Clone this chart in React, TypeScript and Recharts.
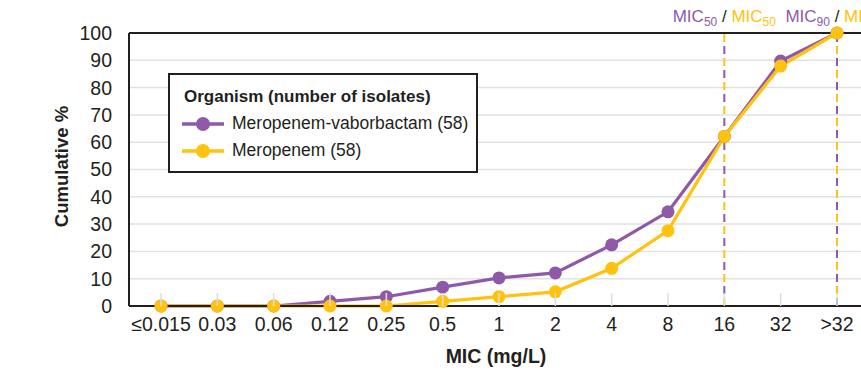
import React from 'react';
import { LineChart, Line, XAxis, YAxis, CartesianGrid, ReferenceLine } from 'recharts';

const micLabels = ['≤0.015', '0.03', '0.06', '0.12', '0.25', '0.5', '1', '2', '4', '8', '16', '32', '>32'];
const meroVabor = [0, 0, 0, 1.7, 3.4, 6.9, 10.3, 12.1, 22.4, 34.5, 62.1, 89.7, 100];
const meropenem = [0, 0, 0, 0, 0, 1.7, 3.4, 5.2, 13.8, 27.6, 62.1, 87.9, 100];
const yTicks = [0, 10, 20, 30, 40, 50, 60, 70, 80, 90, 100];

const seriesNames = ['Meropenem-vaborbactam (58)', 'Meropenem (58)'];
const mic50 = '16';
const mic90 = '>32';

const PURPLE = '#8E5AA8';
const YELLOW = '#FFC20E';
const DARK = '#231F20';
const FONT = '"Liberation Sans", Arial, sans-serif';

const data = micLabels.map((mic, i) => ({ mic, mv: meroVabor[i], m: meropenem[i] }));

const TICK_MARGIN = 8;

const XTick = (props: any) => {
  const { x, y, payload } = props;
  const axisY = y - TICK_MARGIN;
  return (
    <g>
      <line x1={x} x2={x} y1={axisY - 13} y2={axisY} stroke="#dedede" strokeWidth={1.5} />
      <text x={x} y={y + 17} textAnchor="middle" fill={DARK} fontSize={19.5} fontFamily={FONT}>
        {payload.value}
      </text>
    </g>
  );
};

const MicLabel = (sub: string) => (props: any) => {
  const { viewBox } = props;
  const cx = viewBox.x;
  return (
    <text x={cx} y={22} textAnchor="middle" fontSize={17} fontFamily={FONT}>
      <tspan fill={PURPLE}>MIC</tspan>
      <tspan fill={PURPLE} fontSize={12} dy={4}>{sub}</tspan>
      <tspan fill={DARK} dy={-4}> / </tspan>
      <tspan fill={YELLOW}>MIC</tspan>
      <tspan fill={YELLOW} fontSize={12} dy={4}>{sub}</tspan>
    </text>
  );
};

const YTitle = (props: any) => {
  const { viewBox } = props;
  const cy = viewBox.y + viewBox.height / 2 - 3;
  return (
    <text x={68} y={cy} transform={`rotate(-90, 68, ${cy})`} textAnchor="middle" fill={DARK}
      fontSize={18.5} fontWeight="bold" fontFamily={FONT}>
      Cumulative %
    </text>
  );
};

const XTitle = (props: any) => {
  const { viewBox } = props;
  const cx = viewBox.x + viewBox.width / 2 - 3;
  return (
    <text x={cx} y={363} textAnchor="middle" fill={DARK} fontSize={19.5} fontWeight="bold" fontFamily={FONT}>
      MIC (mg/L)
    </text>
  );
};

const LegendBox = () => (
  <div style={{
    position: 'absolute', left: 168, top: 73, width: 306, height: 96, border: `2px solid ${DARK}`,
    background: '#fff', fontFamily: FONT, color: DARK, boxSizing: 'content-box',
  }}>
    <div style={{ position: 'absolute', left: 14, top: 12, fontSize: 17, fontWeight: 'bold' }}>
      Organism (number of isolates)
    </div>
    {seriesNames.map((name, i) => (
      <div key={name} style={{ position: 'absolute', left: 12, top: 38 + i * 27, display: 'flex', alignItems: 'center', fontSize: 17.5 }}>
        <svg width={42} height={16} style={{ marginRight: 8 }}>
          <line x1={0} x2={42} y1={8} y2={8} stroke={i === 0 ? PURPLE : YELLOW} strokeWidth={3.5} />
          <circle cx={21} cy={8} r={7} fill={i === 0 ? PURPLE : YELLOW} />
        </svg>
        <span>{name}</span>
      </div>
    ))}
  </div>
);

export default function App() {
  return (
    <div style={{ position: 'absolute', left: 0, top: 0, width: 861, height: 372, overflow: 'hidden', background: '#fff' }}>
      <LineChart width={880} height={372} data={data} margin={{ top: 33, right: 11, left: 0, bottom: 0 }}>
        <CartesianGrid vertical={false} stroke="#e2e2e2" strokeWidth={1.5} />
        <XAxis dataKey="mic" interval={0} tickSize={0} tickMargin={TICK_MARGIN} tick={<XTick />}
          axisLine={{ stroke: DARK, strokeWidth: 2 }} height={66} padding={{ left: 32, right: 32 }}
          label={<XTitle />} />
        <YAxis domain={[0, 100]} ticks={yTicks} width={129} tickLine={false} tickMargin={11}
          axisLine={{ stroke: DARK, strokeWidth: 2 }} interval={0}
          tick={{ fill: DARK, fontSize: 19.5, fontFamily: FONT }} label={<YTitle />} />
        <ReferenceLine y={100} stroke={DARK} strokeWidth={2} />
        <ReferenceLine x={mic50} stroke={YELLOW} strokeWidth={2} strokeDasharray="8 16" label={MicLabel('50')} />
        <ReferenceLine x={mic50} stroke={PURPLE} strokeWidth={2} strokeDasharray="8 16" strokeDashoffset={-12} />
        <ReferenceLine x={mic90} stroke={PURPLE} strokeWidth={2} strokeDasharray="8 16" label={MicLabel('90')} />
        <ReferenceLine x={mic90} stroke={YELLOW} strokeWidth={2} strokeDasharray="8 16" strokeDashoffset={-12} />
        <Line dataKey="mv" stroke={PURPLE} strokeWidth={3.2} dot={{ r: 6.5, fill: PURPLE, stroke: 'none' }} isAnimationActive={false} />
        <Line dataKey="m" stroke={YELLOW} strokeWidth={3.2} dot={{ r: 6.5, fill: YELLOW, stroke: 'none' }} isAnimationActive={false} />
      </LineChart>
      <LegendBox />
    </div>
  );
}
